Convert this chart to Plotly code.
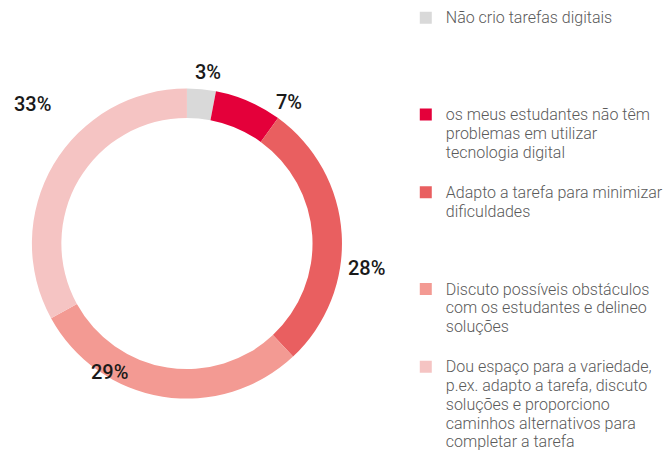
import math
import plotly.graph_objects as go

# ---- data ----
categories = [
    "Não crio tarefas digitais",
    "os meus estudantes não têm<br>problemas em utilizar<br>tecnologia digital",
    "Adapto a tarefa para minimizar<br>dificuldades",
    "Discuto possíveis obstáculos<br>com os estudantes e delineo<br>soluções",
    "Dou espaço para a variedade,<br>p.ex. adapto a tarefa, discuto<br>soluções e proporciono<br>caminhos alternativos para<br>completar a tarefa",
]
values = [3, 7, 28, 29, 33]
colors = ["#d9d9d9", "#e4003a", "#e95f60", "#f39a93", "#f5c4c3"]

# ---- styling ----
slot_lines = [5, 4, 5, 4, 5]          # legend slot heights (lines)
label_angle_shift = [1.7, 12.5, 11.3, 22.0, 11.4]   # deg, label placement tweak
label_radius = [173, 175, 182, 150, 208]            # px from centre
legend_glyph_px = 16
legend_line_fs = 14.4   # sets legend line spacing (1.3 em)

legend_labels = []
for lab, n in zip(categories, slot_lines):
    lines = lab.split("<br>")
    styled = [f"<span style='font-size:{legend_glyph_px}px'>{ln}</span>" for ln in lines]
    styled += [" "] * max(0, n - len(lines))
    legend_labels.append("<br>".join(styled))

W, H = 669, 458
cx, cy, R = 187.5, 243.5, 155.5

fig = go.Figure(
    go.Pie(
        labels=legend_labels,
        values=values,
        marker=dict(colors=colors, line=dict(width=0)),
        hole=0.81,
        sort=False,
        direction="clockwise",
        rotation=0,
        textinfo="none",
        domain=dict(x=[(cx - R) / W, (cx + R) / W], y=[1 - (cy + R) / H, 1 - (cy - R) / H]),
        hoverinfo="percent",
    )
)

# percentage labels placed around the ring from the cumulative values
total = sum(values)
cum = 0
for v, shift, rad in zip(values, label_angle_shift, label_radius):
    mid = (cum + v / 2) / total * 360 + shift
    cum += v
    a = math.radians(mid)
    px = cx + rad * math.sin(a)
    py = cy - rad * math.cos(a)
    fig.add_annotation(
        x=px / W, y=1 - py / H, xref="paper", yref="paper",
        text=f"{v}%", showarrow=False, xanchor="center", yanchor="middle",
        font=dict(family="Roboto, Arial, sans-serif", size=20, color="#1a1a1a", weight=500),
    )

fig.update_layout(
    width=W,
    height=H,
    margin=dict(l=0, r=0, t=0, b=0),
    paper_bgcolor="white",
    plot_bgcolor="white",
    showlegend=True,
    legend=dict(
        x=407 / W,
        xanchor="left",
        y=1 - 2 / H,
        yanchor="top",
        valign="top",
        font=dict(family="Roboto, Arial, sans-serif", size=legend_line_fs, color="#5a5a5a", weight=300),
        bgcolor="rgba(0,0,0,0)",
        borderwidth=0,
    ),
)

fig.write_html(
    "out.html",
    config={"displayModeBar": False, "responsive": False},
    post_script=(
        "document.body.style.margin='0';"
        "document.body.style.overflow='hidden';"
        "document.documentElement.style.overflow='hidden';"
    ),
)
